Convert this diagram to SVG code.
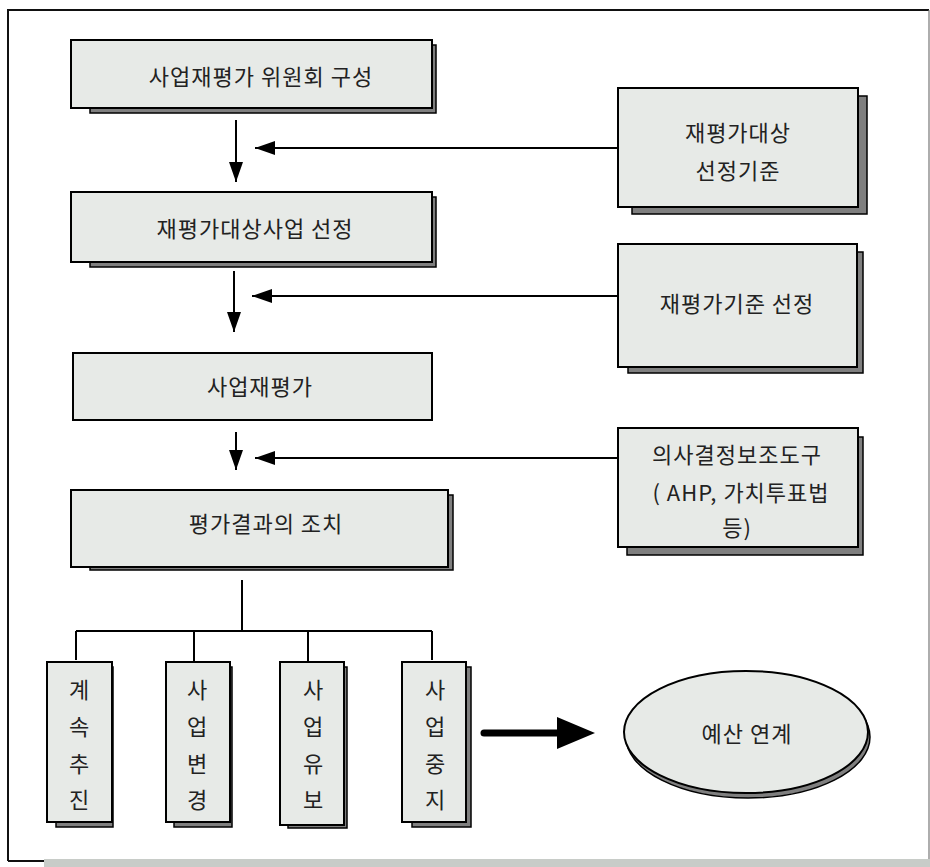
<svg xmlns="http://www.w3.org/2000/svg" width="930" height="867" viewBox="0 0 930 867">
<defs>
<style>
.box{fill:#e7eae7;stroke:#000;stroke-width:2}
.sh{fill:#7f7f7f;stroke:#000;stroke-width:1.5}
.t{font-family:"Noto Sans CJK KR","Noto Sans",sans-serif;font-size:22px;letter-spacing:1px;fill:#222;text-anchor:middle;dominant-baseline:central}
.v{letter-spacing:0}
.ln{stroke:#000;stroke-width:2;fill:none}
</style>
<marker id="ah" viewBox="0 0 20 14" refX="20" refY="7" markerWidth="20" markerHeight="14" markerUnits="userSpaceOnUse" orient="auto">
<path d="M0,0 L20,7 L0,14 Z" fill="#000"/>
</marker>
</defs>
<rect width="930" height="867" fill="#fff"/>
<!-- frame -->
<path d="M8,861 L8,10 L929,10" fill="none" stroke="#111" stroke-width="2"/>
<line x1="929" y1="10" x2="929" y2="859" stroke="#777" stroke-width="1.2"/>
<line x1="8" y1="861" x2="44" y2="861" stroke="#111" stroke-width="2"/>
<rect x="44" y="859" width="886" height="8" fill="#c8ccc8"/>

<g id="connectors">
<line class="ln" x1="236" y1="120" x2="236" y2="182" marker-end="url(#ah)"/>
<line class="ln" x1="618" y1="148" x2="255" y2="148" marker-end="url(#ah)"/>
<line class="ln" x1="234" y1="271" x2="234" y2="332" marker-end="url(#ah)"/>
<line class="ln" x1="618" y1="296" x2="252" y2="296" marker-end="url(#ah)"/>
<line class="ln" x1="236" y1="432" x2="236" y2="470" marker-end="url(#ah)"/>
<line class="ln" x1="618" y1="458" x2="255" y2="458" marker-end="url(#ah)"/>
<line class="ln" x1="242" y1="580" x2="242" y2="631"/>
<line class="ln" x1="76" y1="631" x2="432" y2="631"/>
<line class="ln" x1="76" y1="631" x2="76" y2="660"/>
<line class="ln" x1="194" y1="631" x2="194" y2="662"/>
<line class="ln" x1="308" y1="631" x2="308" y2="662"/>
<line class="ln" x1="432" y1="631" x2="432" y2="660"/>
<line x1="484" y1="733" x2="560" y2="733" stroke="#000" stroke-width="7" stroke-linecap="round"/>
<path d="M557,717 L595,733 L557,749 Z" fill="#000"/>
</g>

<g id="n1">
<rect class="sh" x="90" y="45" width="346" height="68"/>
<rect class="box" x="71" y="40" width="361" height="68"/>
<text class="t" x="261" y="75">사업재평가 위원회 구성</text>
</g>
<g id="n2">
<rect class="sh" x="90" y="197" width="346" height="70"/>
<rect class="box" x="71" y="192" width="361" height="70"/>
<text class="t" x="255" y="227">재평가대상사업 선정</text>
</g>
<g id="n3">
<rect class="box" x="73" y="353" width="359" height="67"/>
<text class="t" x="260" y="385">사업재평가</text>
</g>
<g id="n4">
<rect class="sh" x="90" y="495" width="363" height="75"/>
<rect class="box" x="71" y="490" width="377" height="77"/>
<text class="t" x="266" y="522">평가결과의 조치</text>
</g>

<g id="r1">
<rect class="sh" x="632" y="96" width="235" height="118"/>
<rect class="box" x="618" y="88" width="240" height="119"/>
<text class="t" x="738" y="131">재평가대상</text>
<text class="t" x="738" y="169">선정기준</text>
</g>
<g id="r2">
<rect class="sh" x="628" y="252" width="235" height="121"/>
<rect class="box" x="618" y="244" width="239" height="123"/>
<text class="t" x="737" y="302">재평가기준 선정</text>
</g>
<g id="r3">
<rect class="sh" x="627" y="437" width="236" height="118"/>
<rect class="box" x="618" y="428" width="240" height="119"/>
<text class="t" x="737" y="453">의사결정보조도구</text>
<text class="t" x="741" y="491">( AHP, 가치투표법</text>
<text class="t" x="737" y="526">등)</text>
</g>

<g id="b1">
<rect class="sh" x="56" y="667" width="57" height="160"/>
<rect class="box" x="47" y="662" width="65" height="160"/>
<text class="t v" x="79" y="688">계</text><text class="t v" x="79" y="725">속</text><text class="t v" x="79" y="762">추</text><text class="t v" x="79" y="798">진</text>
</g>
<g id="b2">
<rect class="sh" x="174" y="667" width="58" height="160"/>
<rect class="box" x="166" y="662" width="64" height="160"/>
<text class="t v" x="197" y="688">사</text><text class="t v" x="197" y="725">업</text><text class="t v" x="197" y="762">변</text><text class="t v" x="197" y="798">경</text>
</g>
<g id="b3">
<rect class="sh" x="288" y="667" width="59" height="161"/>
<rect class="box" x="280" y="662" width="64" height="163"/>
<text class="t v" x="313" y="688">사</text><text class="t v" x="313" y="725">업</text><text class="t v" x="313" y="762">유</text><text class="t v" x="313" y="798">보</text>
</g>
<g id="b4">
<rect class="sh" x="412" y="667" width="59" height="160"/>
<rect class="box" x="402" y="662" width="64" height="160"/>
<text class="t v" x="435" y="688">사</text><text class="t v" x="435" y="725">업</text><text class="t v" x="435" y="762">중</text><text class="t v" x="435" y="798">지</text>
</g>

<g id="e1">
<ellipse cx="748" cy="737" rx="122" ry="61" fill="#7f7f7f" stroke="#000" stroke-width="1.5"/>
<ellipse cx="746" cy="732" rx="122" ry="61" fill="#e7eae7" stroke="#000" stroke-width="2"/>
<text class="t" x="747" y="732">예산 연계</text>
</g>
</svg>
